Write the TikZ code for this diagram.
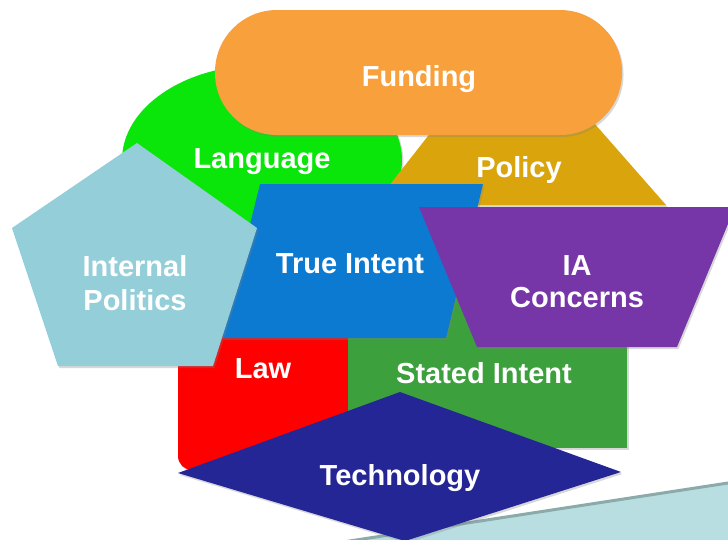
\documentclass[tikz,border=0pt]{standalone}
\usepackage{fontspec}
\setmainfont{Liberation Sans}
\usetikzlibrary{shadows}
\definecolor{cFund}{RGB}{248,160,60}
\definecolor{cLang}{RGB}{10,230,10}
\definecolor{cPol}{RGB}{218,165,12}
\definecolor{cPent}{RGB}{148,206,216}
\definecolor{cTrue}{RGB}{12,122,208}
\definecolor{cIA}{RGB}{118,54,168}
\definecolor{cLaw}{RGB}{255,0,0}
\definecolor{cStat}{RGB}{60,160,60}
\definecolor{cTech}{RGB}{36,38,150}
\definecolor{cBand}{RGB}{184,222,226}
\definecolor{cBandLine}{RGB}{140,170,170}
\begin{document}
\begin{tikzpicture}[x=1pt,y=-1pt,
  shp/.style={drop shadow={opacity=0.3,shadow xshift=1.5pt,shadow yshift=-2pt}},
  lbl/.style={text=white,font=\bfseries\fontsize{29}{33}\selectfont,anchor=base,inner sep=0pt}]
\useasboundingbox[fill=white] (0,0) rectangle (728,539);
\clip (0,0) rectangle (728,539);

% background band
\fill[cBand] (330,544) -- (728,483) -- (740,560) -- (330,560) -- cycle;
\draw[cBandLine,line width=3pt] (330,544) -- (728,483);

% Language
\path[fill=cLang,shp] (262,160) ellipse [x radius=140, y radius=95];
% Policy
\path[fill=cPol,shp] (374,205) -- (464,90) -- (565,90) -- (666,205) -- cycle;
% Funding
\path[fill=cFund,shp,rounded corners=62pt] (215,10) rectangle (622,135);
% Law
\path[fill=cLaw,shp,rounded corners=14pt] (178,300) rectangle (348,470);
% Stated Intent
\path[fill=cStat,shp] (348,290) rectangle (627,448);
% True Intent
\path[fill=cTrue,shp] (260,184) -- (483,184) -- (446,338) -- (222,338) -- cycle;
% Internal Politics
\path[fill=cPent,shp] (137,143) -- (257,228) -- (213,366) -- (58,366) -- (12,228) -- cycle;
% IA Concerns
\path[fill=cIA,shp] (419,207) -- (735,207) -- (677,347) -- (477,347) -- cycle;
% Technology
\path[fill=cTech,shp] (178,473) -- (400,392) -- (621,472) -- (405,541) -- cycle;

% labels
\node[lbl] (funding) at (419,86) {Funding};
\node[lbl] (language) at (262,168) {Language};
\node[lbl] (policy) at (519,177) {Policy};
\node[lbl] (internal) at (135,276) {Internal};
\node[lbl] (politics) at (135,310) {Politics};
\node[lbl] (trueintent) at (350,273) {True Intent};
\node[lbl] (ia) at (577,275) {IA};
\node[lbl] (concerns) at (577,307) {Concerns};
\node[lbl] (law) at (263,378) {Law};
\node[lbl] (stated) at (484,383) {Stated Intent};
\node[lbl] (tech) at (400,485) {Technology};
\end{tikzpicture}
\end{document}
